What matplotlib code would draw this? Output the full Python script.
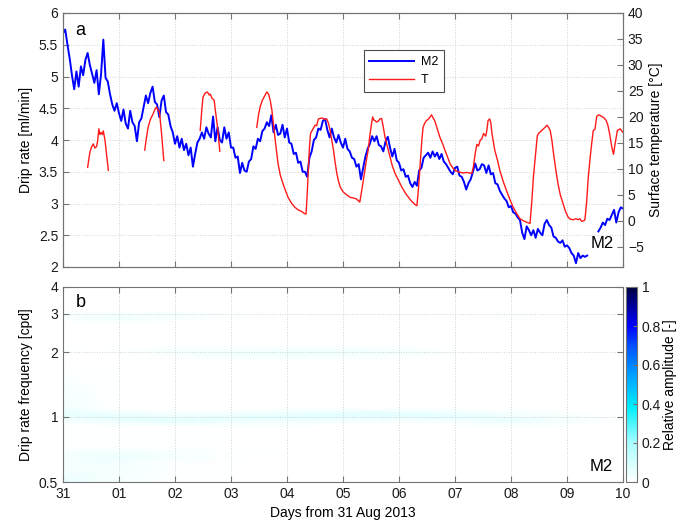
import numpy as np
import matplotlib
matplotlib.use('Agg')
import matplotlib.pyplot as plt
from matplotlib.colors import LinearSegmentedColormap
from matplotlib.ticker import FixedLocator, NullLocator

plt.rcParams['font.family'] = ['Liberation Sans', 'DejaVu Sans']
plt.rcParams['font.size'] = 10

# --- panel a: M2 drip rate (ml/min), sampled every 0.04 day from 31 Aug 00:00
m2_start, m2_step = 0.0, 0.04
m2_rate = [
    5.68, 5.74, 5.50, 5.28, 5.02, 4.80, 5.08, 4.84, 5.16, 5.02,
    5.26, 5.37, 5.18, 5.04, 4.90, 5.10, 4.72, 5.04, 5.58, 4.98,
    4.92, 4.72, 4.56, 4.46, 4.58, 4.42, 4.30, 4.48, 4.26, 4.18,
    4.46, 4.28, 4.22, 3.98, 4.28, 4.34, 4.52, 4.70, 4.58, 4.74,
    4.84, 4.60, 4.56, 4.36, 4.62, 4.70, 4.44, 4.40, 4.22, 4.12,
    3.94, 4.06, 3.88, 4.02, 3.84, 3.94, 3.76, 3.88, 3.58, 3.78,
    3.96, 4.02, 4.12, 4.02, 4.20, 4.10, 4.04, 4.37, 3.98, 4.20,
    4.00, 3.96, 4.20, 4.02, 4.12, 3.88, 3.88, 3.72, 3.74, 3.48,
    3.64, 3.52, 3.50, 3.66, 3.70, 3.90, 3.86, 4.02, 3.98, 4.14,
    4.18, 4.28, 4.22, 4.39, 4.12, 4.24, 4.08, 4.10, 4.24, 4.04,
    4.18, 3.96, 3.94, 3.78, 3.80, 3.64, 3.66, 3.50, 3.50, 3.42,
    3.72, 3.82, 4.00, 4.04, 4.18, 4.16, 4.30, 4.33, 4.16, 4.04,
    4.18, 4.04, 3.96, 4.08, 3.96, 3.88, 4.02, 3.86, 3.82, 3.72,
    3.70, 3.58, 3.62, 3.38, 3.56, 3.74, 3.86, 3.94, 4.06, 3.98,
    4.06, 3.92, 3.90, 3.82, 3.98, 4.05, 3.88, 3.74, 3.86, 3.68,
    3.64, 3.52, 3.54, 3.42, 3.44, 3.32, 3.26, 3.34, 3.28, 3.52,
    3.56, 3.72, 3.76, 3.80, 3.72, 3.82, 3.74, 3.80, 3.70, 3.78,
    3.66, 3.62, 3.56, 3.50, 3.46, 3.56, 3.58, 3.44, 3.42, 3.34,
    3.22, 3.32, 3.38, 3.50, 3.63, 3.52, 3.54, 3.62, 3.60, 3.48,
    3.60, 3.46, 3.48, 3.32, 3.30, 3.20, 3.14, 3.08, 3.04, 2.94,
    2.96, 2.86, 2.84, 2.78, 2.74, 2.54, 2.44, 2.64, 2.58, 2.50,
    2.58, 2.46, 2.60, 2.54, 2.50, 2.68, 2.74, 2.66, 2.62, 2.48,
    2.46, 2.40, 2.38, 2.42, 2.32, 2.34, 2.30, 2.22, 2.18, 2.06,
    2.22, 2.14, 2.18, 2.16, 2.18,
]
# second piece after the data gap
m2b_start = 9.56
m2b_rate = [2.56, 2.62, 2.70, 2.66, 2.76, 2.74, 2.82, 2.90, 2.70, 2.86, 2.94, 2.92]

# surface temperature (degC), gaps as nan
temp_day = [
    0.44, 0.48, 0.51, 0.54, 0.57, 0.60, 0.62, 0.64, 0.66, 0.68, 0.70, 0.72, 0.75, 0.78, 0.81, 0.82,
    1.46, 1.49, 1.52, 1.56, 1.61, 1.64, 1.67, 1.70, 1.72, 1.74, 1.76, 1.80, 1.81,
    2.45, 2.48, 2.50, 2.54, 2.58, 2.61, 2.63, 2.66, 2.70, 2.72, 2.76, 2.80, 2.81,
    3.46, 3.49, 3.52, 3.56, 3.61, 3.64, 3.67, 3.70, 3.73, 3.76, 3.79, 3.84, 3.88, 3.93, 3.98,
    4.02, 4.08, 4.14, 4.20, 4.26, 4.31, 4.34, 4.36, 4.38, 4.40, 4.42, 4.46, 4.50, 4.53, 4.56,
    4.59, 4.63, 4.67, 4.71, 4.74, 4.77, 4.80, 4.83, 4.86, 4.89, 4.92, 4.95, 5.00, 5.04, 5.09,
    5.13, 5.18, 5.24, 5.28, 5.30, 5.34, 5.39, 5.42, 5.45, 5.48, 5.51, 5.53, 5.55, 5.57, 5.60,
    5.63, 5.66, 5.69, 5.72, 5.75, 5.80, 5.84, 5.88, 5.93, 5.99, 6.05, 6.11, 6.17, 6.23, 6.29,
    6.32, 6.35, 6.38, 6.41, 6.43, 6.46, 6.49, 6.52, 6.55, 6.58, 6.61, 6.64, 6.68, 6.73, 6.78,
    6.82, 6.87, 6.91, 6.96, 7.00, 7.06, 7.15, 7.22, 7.30, 7.33, 7.36, 7.39, 7.42, 7.45, 7.48,
    7.51, 7.55, 7.57, 7.59, 7.62, 7.64, 7.66, 7.71, 7.76, 7.80, 7.86, 7.92, 7.98, 8.04, 8.10,
    8.16, 8.22, 8.28, 8.34, 8.37, 8.40, 8.44, 8.47, 8.50, 8.52, 8.56, 8.61, 8.64, 8.67, 8.70,
    8.73, 8.76, 8.80, 8.84, 8.88, 8.93, 8.97, 9.02, 9.06, 9.11, 9.16, 9.20, 9.23, 9.26, 9.30,
    9.32, 9.35, 9.38, 9.41, 9.44, 9.47, 9.50, 9.53, 9.57, 9.62, 9.66, 9.70, 9.73, 9.76, 9.80,
    9.83, 9.86, 9.90, 9.95, 9.99,
]
temp_val = [
    10.3, 13.2, 14.2, 14.8, 14.0, 14.3, 15.5, 17.7, 16.6, 17.0, 16.6, 17.3, 15.5, 12.6, 9.7, np.nan,
    13.6, 16.0, 18.0, 19.5, 20.6, 21.4, 21.9, 21.2, 21.1, 19.0, 16.8, 11.6, np.nan,
    17.4, 21.5, 23.8, 24.6, 24.8, 24.2, 24.4, 23.6, 23.2, 21.3, 18.0, 13.4, np.nan,
    18.0, 20.3, 21.9, 23.2, 24.2, 24.8, 24.4, 23.2, 21.3, 18.4, 15.5, 11.0, 8.8, 7.1, 5.6,
    4.5, 3.4, 2.6, 2.1, 1.8, 1.4, 1.3, 5.0, 9.7, 14.0, 16.8, 17.6, 18.4, 18.3, 19.6,
    19.7, 19.8, 19.5, 19.6, 18.8, 17.4, 15.5, 13.6, 11.2, 9.1, 7.6, 6.5, 5.6, 5.2, 4.8,
    4.5, 4.4, 4.2, 3.8, 3.6, 6.2, 9.7, 11.8, 13.6, 16.5, 18.7, 20.0, 19.4, 19.3, 19.0,
    19.2, 19.6, 19.7, 18.0, 16.1, 14.0, 12.3, 10.6, 9.1, 7.8, 6.5, 5.4, 4.5, 3.7, 3.1,
    2.9, 6.5, 11.3, 15.8, 18.0, 18.8, 19.3, 19.5, 19.9, 20.4, 19.8, 19.2, 17.8, 16.1, 14.8,
    13.6, 12.2, 11.0, 10.2, 9.7, 9.4, 9.2, 9.3, 9.1, 10.5, 12.9, 14.7, 14.4, 15.5, 15.8,
    16.8, 16.3, 17.5, 19.3, 19.6, 18.8, 16.8, 13.6, 11.6, 9.7, 7.6, 5.8, 4.1, 2.6, 1.4,
    0.4, 0.0, -0.3, -0.5, 3.5, 8.4, 13.0, 16.4, 16.9, 17.1, 17.5, 18.0, 18.4, 18.0, 17.4,
    15.5, 12.9, 9.8, 7.1, 5.0, 3.3, 1.9, 0.7, 0.3, 0.2, 0.4, 0.2, 0.4, -0.1, 0.0,
    0.2, 3.5, 8.4, 11.8, 14.8, 17.4, 17.6, 20.1, 20.4, 20.1, 19.8, 19.3, 18.4, 16.8, 14.2,
    12.8, 14.9, 17.4, 17.7, 17.1,
]

# --- panel b: relative amplitude of drip rate spectrum (faint streaks only)
amp_day = [0, 1, 2, 3, 4, 5, 6, 7, 8, 9, 10]
amp_freq = [0.5, 0.56, 0.62, 0.66, 0.72, 0.9, 0.96, 1.0, 1.04, 1.1,
            1.8, 1.93, 1.98, 2.03, 2.15, 2.7, 2.85, 2.92, 3.0, 3.15, 4.0]
amp = [
    [0.05, 0.02, 0.00, 0.00, 0.00, 0.00, 0.00, 0.00, 0.00, 0.00, 0.00],
    [0.03, 0.02, 0.01, 0.00, 0.00, 0.00, 0.00, 0.00, 0.00, 0.00, 0.00],
    [0.02, 0.03, 0.01, 0.00, 0.00, 0.00, 0.00, 0.00, 0.00, 0.00, 0.00],
    [0.03, 0.04, 0.02, 0.01, 0.00, 0.00, 0.00, 0.00, 0.00, 0.00, 0.00],
    [0.01, 0.01, 0.01, 0.00, 0.00, 0.00, 0.00, 0.00, 0.00, 0.00, 0.00],
    [0.00, 0.00, 0.00, 0.00, 0.00, 0.00, 0.00, 0.00, 0.00, 0.00, 0.00],
    [0.02, 0.04, 0.06, 0.04, 0.03, 0.02, 0.01, 0.02, 0.05, 0.02, 0.00],
    [0.04, 0.07, 0.05, 0.06, 0.07, 0.06, 0.06, 0.06, 0.04, 0.02, 0.00],
    [0.06, 0.03, 0.02, 0.02, 0.04, 0.06, 0.06, 0.04, 0.02, 0.01, 0.00],
    [0.03, 0.00, 0.00, 0.00, 0.00, 0.00, 0.00, 0.00, 0.00, 0.00, 0.00],
    [0.00, 0.00, 0.00, 0.00, 0.00, 0.00, 0.00, 0.00, 0.00, 0.00, 0.00],
    [0.00, 0.00, 0.01, 0.03, 0.03, 0.02, 0.01, 0.00, 0.00, 0.00, 0.00],
    [0.00, 0.00, 0.02, 0.03, 0.04, 0.04, 0.03, 0.01, 0.00, 0.00, 0.00],
    [0.00, 0.01, 0.02, 0.02, 0.03, 0.03, 0.02, 0.00, 0.00, 0.00, 0.00],
    [0.00, 0.00, 0.00, 0.00, 0.00, 0.00, 0.00, 0.00, 0.00, 0.00, 0.00],
    [0.00, 0.00, 0.00, 0.00, 0.00, 0.00, 0.00, 0.00, 0.00, 0.00, 0.00],
    [0.01, 0.03, 0.01, 0.00, 0.00, 0.00, 0.00, 0.00, 0.00, 0.00, 0.00],
    [0.02, 0.03, 0.02, 0.01, 0.00, 0.00, 0.00, 0.00, 0.01, 0.00, 0.00],
    [0.01, 0.02, 0.02, 0.00, 0.00, 0.00, 0.00, 0.00, 0.00, 0.00, 0.00],
    [0.00, 0.00, 0.00, 0.00, 0.00, 0.00, 0.00, 0.00, 0.00, 0.00, 0.00],
    [0.00, 0.00, 0.00, 0.00, 0.00, 0.00, 0.00, 0.00, 0.00, 0.00, 0.00],
]

day_labels = ['31', '01', '02', '03', '04', '05', '06', '07', '08', '09', '10']

#%% figure
W, H = 679, 525
fig = plt.figure(figsize=(W / 100, H / 100), dpi=100)

def fig_box(x0, y0, x1, y1):
    # pixel box (top-left origin) -> figure fraction
    return [x0 / W, 1 - y1 / H, (x1 - x0) / W, (y1 - y0) / H]

spine_c = '0.45'
grid_kw = dict(color='0.82', linestyle=':', linewidth=0.7)

def style(ax):
    for s in ax.spines.values():
        s.set_color(spine_c)
    ax.tick_params(direction='in', length=4, color=spine_c, labelcolor='0.1')

ax1 = fig.add_axes(fig_box(63, 13, 623, 267))
t1 = m2_start + m2_step * np.arange(len(m2_rate))
t2 = m2b_start + m2_step * np.arange(len(m2b_rate))
l_m2, = ax1.plot(t1, m2_rate, color='#0000ff', lw=1.4, label='M2')
ax1.plot(t2, m2b_rate, color='#0000ff', lw=1.4)
ax1.set_xlim(0, 10)
ax1.set_ylim(2, 6)
ax1.set_yticks(np.arange(2, 6.01, 0.5))
ax1.set_yticklabels(['2', '2.5', '3', '3.5', '4', '4.5', '5', '5.5', '6'])
ax1.set_xticks(range(11))
ax1.tick_params(top=True, labelbottom=False)
ax1.grid(True, **grid_kw)
ax1.set_ylabel('Drip rate [ml/min]')
style(ax1)

ax2 = ax1.twinx()
l_t, = ax2.plot(temp_day, temp_val, color='#ff1a1a', lw=1.0, label='T')
ax2.set_ylim(-8.9, 40)
ax2.set_yticks(range(-5, 41, 5))
ax2.set_ylabel('Surface temperature [°C]')
style(ax2)

leg = ax2.legend(handles=[l_m2, l_t], loc='upper left', bbox_to_anchor=(0.537, 0.853),
                 borderaxespad=0, fancybox=False, edgecolor='0.3', framealpha=1, fontsize=9,
                 handlelength=3.6, handletextpad=0.5, borderpad=0.45, labelspacing=0.5)
leg.get_frame().set_linewidth(0.8)

ax1.text(0.022, 0.93, 'a', transform=ax1.transAxes, fontsize=13, va='center')
ax2.text(0.983, 0.094, 'M2', transform=ax1.transAxes, fontsize=12, ha='right', va='center')

# panel b
ax3 = fig.add_axes(fig_box(63, 287, 623, 482))
cmap = LinearSegmentedColormap.from_list('amp', [
    (0.0, '#ffffff'), (0.2, '#a8ffff'), (0.38, '#00f0ff'), (0.55, '#00a0ff'),
    (0.7, '#0050ff'), (0.8, '#0000ff'), (1.0, '#000040')])
DD, FF = np.meshgrid(amp_day, amp_freq)
mesh = ax3.pcolormesh(DD, FF, np.array(amp), cmap=cmap, vmin=0, vmax=1, shading='gouraud')
ax3.set_yscale('log')
ax3.set_xlim(0, 10)
ax3.set_ylim(0.5, 4)
ax3.yaxis.set_major_locator(FixedLocator([0.5, 1, 2, 3, 4]))
ax3.yaxis.set_minor_locator(NullLocator())
ax3.set_yticklabels(['0.5', '1', '2', '3', '4'])
ax3.set_xticks(range(11))
ax3.set_xticklabels(day_labels)
ax3.tick_params(top=True, right=True)
ax3.grid(True, **grid_kw)
ax3.set_xlabel('Days from 31 Aug 2013')
ax3.set_ylabel('Drip rate frequency [cpd]')
style(ax3)
ax3.text(0.022, 0.918, 'b', transform=ax3.transAxes, fontsize=13, va='center')
ax3.text(0.982, 0.082, 'M2', transform=ax3.transAxes, fontsize=12, ha='right', va='center')

cax = fig.add_axes(fig_box(626, 287, 637, 482))
cb = fig.colorbar(mesh, cax=cax, ticks=np.arange(0, 1.01, 0.2))
cb.ax.set_yticklabels(['0', '0.2', '0.4', '0.6', '0.8', '1'])
cb.set_label('Relative amplitude [-]', labelpad=1)
cb.outline.set_edgecolor(spine_c)
cb.ax.tick_params(direction='in', length=3, color=spine_c, labelcolor='0.1')

fig.savefig('out.png', dpi=100)
